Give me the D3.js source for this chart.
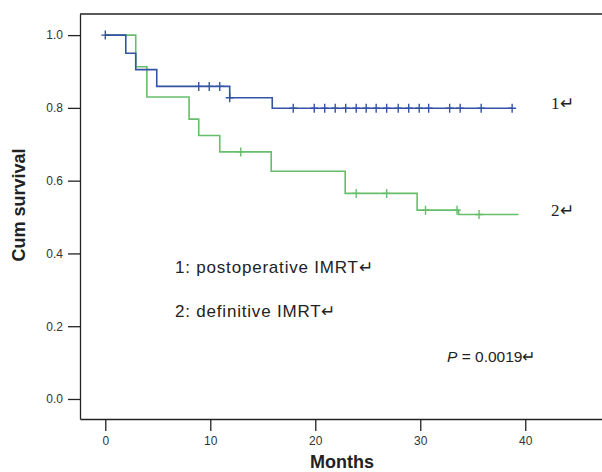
<!DOCTYPE html>
<html>
<head>
<meta charset="utf-8">
<script src="https://cdn.jsdelivr.net/npm/d3@7"></script>
<style>
  body { margin: 0; background: #fff; }
  svg { display: block; }
</style>
</head>
<body>
<div id="chart"></div>
<script>
// group 1: postoperative IMRT
const g1Times = [0, 1.95, 2.9, 4.9, 11.85, 15.9];
const g1Surv = [1.0, 0.95, 0.905, 0.859, 0.828, 0.799];
const g1Censor = [0, 8.9, 9.9, 10.9, 11.85, 17.9, 19.9, 20.9, 21.9, 22.9, 23.9, 24.85, 25.8,
  26.8, 27.9, 28.9, 29.9, 30.8, 32.8, 33.8, 35.8, 38.75];
const g1End = 38.75;

// group 2: definitive IMRT
const g2Times = [0, 2.9, 3.96, 7.98, 8.9, 10.9, 15.8, 22.85, 29.7, 33.65];
const g2Surv = [1.0, 0.913, 0.83, 0.769, 0.724, 0.679, 0.626, 0.565, 0.519, 0.507];
const g2Censor = [12.9, 23.9, 26.8, 30.5, 33.5, 35.6];
const g2End = 39.35;

const xTicks = [0, 10, 20, 30, 40];
const yTicks = [0, 0.2, 0.4, 0.6, 0.8, 1.0];
const legendLines = ["1:  postoperative IMRT\u21B5", "2:  definitive IMRT\u21B5"];
const pValue = "0.0019";

const W = 602, H = 472;
const sans = "'Liberation Sans', Arial, sans-serif";

const svg = d3.select("#chart").append("svg")
  .attr("width", W)
  .attr("height", H);

const x = d3.scaleLinear().domain([-2.41, 47.5]).range([80, 604]);
const y = d3.scaleLinear().domain([-0.055, 1.058]).range([419, 14]);

// axes
const yAxis = svg.append("g")
  .attr("transform", "translate(80,0)")
  .call(d3.axisLeft(y).tickValues(yTicks).tickFormat(d3.format(".1f"))
    .tickSize(12).tickSizeOuter(0).tickPadding(5));
const xAxis = svg.append("g")
  .attr("transform", "translate(0,419)")
  .call(d3.axisBottom(x).tickValues(xTicks).tickFormat(d3.format("d"))
    .tickSize(12).tickSizeOuter(0).tickPadding(5));

[yAxis, xAxis].forEach(a => {
  a.selectAll("path, line").attr("stroke", "#222").attr("stroke-width", 1.3);
  a.selectAll("text").attr("fill", "#333").style("font-family", sans).style("font-size", "12px");
});

// top frame
svg.append("line")
  .attr("x1", x.range()[0]).attr("x2", x.range()[1])
  .attr("y1", y.range()[1]).attr("y2", y.range()[1])
  .attr("stroke", "#222").attr("stroke-width", 1.3);

// axis titles
svg.append("text")
  .attr("transform", "translate(25,205) rotate(-90)")
  .attr("text-anchor", "middle")
  .style("font-family", sans).style("font-size", "18px").style("font-weight", "bold")
  .attr("fill", "#222")
  .text("Cum survival");
svg.append("text")
  .attr("x", 342).attr("y", 468)
  .attr("text-anchor", "middle")
  .style("font-family", sans).style("font-size", "18px").style("font-weight", "bold")
  .attr("fill", "#222")
  .text("Months");

function survAt(times, surv, t) {
  let v = surv[0];
  times.forEach((tt, i) => { if (tt <= t) v = surv[i]; });
  return v;
}

function drawGroup(times, surv, censor, end, color) {
  const pts = times.map((t, i) => [t, surv[i]]);
  pts.push([end, surv[surv.length - 1]]);
  const line = d3.line()
    .x(d => x(d[0]))
    .y(d => y(d[1]))
    .curve(d3.curveStepAfter);
  svg.append("path")
    .datum(pts)
    .attr("fill", "none")
    .attr("stroke", color)
    .attr("stroke-width", 1.6)
    .attr("d", line);

  svg.append("g").selectAll("path")
    .data(censor)
    .enter().append("path")
    .attr("fill", "none")
    .attr("stroke", color)
    .attr("stroke-width", 1.4)
    .attr("d", t => {
      const cx = x(t), cy = y(survAt(times, surv, t));
      return `M${cx - 4},${cy}H${cx + 4}M${cx},${cy - 4.5}V${cy + 4.5}`;
    });
}

drawGroup(g2Times, g2Surv, g2Censor, g2End, "#66BE6C");
drawGroup(g1Times, g1Surv, g1Censor, g1End, "#3553A4");

// curve labels
const serif = "'Liberation Serif', 'Times New Roman', serif";
svg.append("text").attr("x", 551).attr("y", 109)
  .style("font-family", serif).style("font-size", "17px").attr("fill", "#222")
  .text("1\u21B5");
svg.append("text").attr("x", 551).attr("y", 216)
  .style("font-family", serif).style("font-size", "17px").attr("fill", "#222")
  .text("2\u21B5");

// legend text
svg.selectAll(".leg")
  .data(legendLines)
  .enter().append("text")
  .attr("class", "leg")
  .attr("x", 175)
  .attr("y", (d, i) => 273 + i * 44)
  .style("font-family", sans).style("font-size", "17px")
  .style("letter-spacing", "0.8px").attr("fill", "#222")
  .text(d => d);

const pText = svg.append("text")
  .attr("x", 447).attr("y", 362)
  .style("font-family", sans).style("font-size", "15.5px").attr("fill", "#222");
pText.append("tspan").style("font-style", "italic").text("P");
pText.append("tspan").text(" = " + pValue + "\u21B5");
</script>
</body>
</html>
